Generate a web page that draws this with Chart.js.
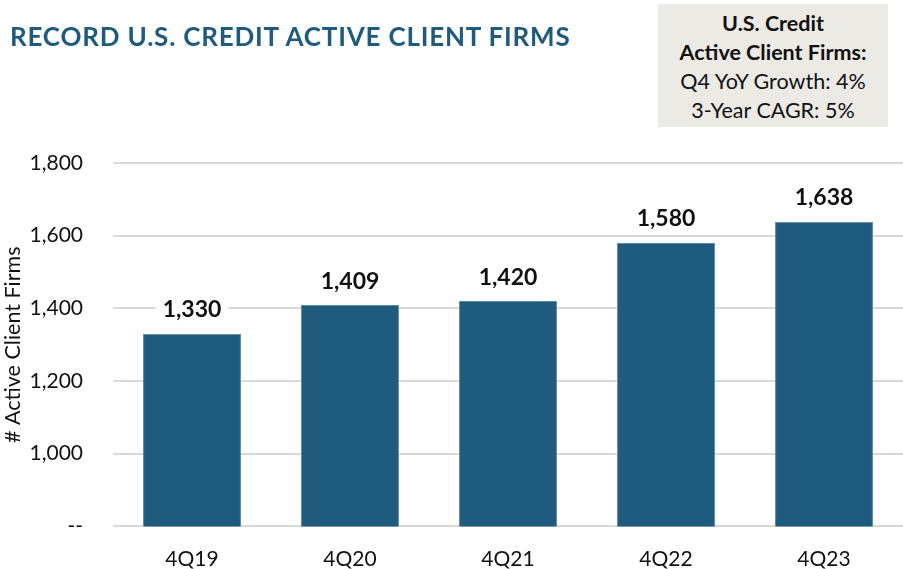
<!DOCTYPE html>
<html>
<head>
<meta charset="utf-8">
<script src="https://cdn.jsdelivr.net/npm/chart.js@4"></script>
<style>
  html, body { margin: 0; padding: 0; background: #fff; overflow: hidden; }
  #wrap { position: relative; width: 903px; height: 569px; }
  #title {
    position: absolute; left: 10px; top: 20px; letter-spacing: 0.8px;
    font: bold 26px Lato, sans-serif; color: #1F5B7D; white-space: nowrap;
  }
  #note {
    position: absolute; left: 658px; top: 4px; width: 230px; height: 123px;
    background: #ECEAE5; text-align: center; color: #111;
    font: 21.5px Lato, sans-serif; line-height: 29px; padding-top: 5px; box-sizing: border-box;
  }
  #note b { font-weight: bold; }
</style>
</head>
<body>
<div id="wrap">
  <canvas id="barChart" width="903" height="569"></canvas>
  <div id="title">RECORD U.S. CREDIT ACTIVE CLIENT FIRMS</div>
  <div id="note"><b>U.S. Credit</b><br><b>Active Client Firms:</b><br>Q4 YoY Growth: 4%<br>3-Year CAGR: 5%</div>
</div>
<script>
  const quarters = ["4Q19", "4Q20", "4Q21", "4Q22", "4Q23"];
  const activeFirms = [1330, 1409, 1420, 1580, 1638];
  const yTicks = [800, 1000, 1200, 1400, 1600, 1800];

  const barColor = "#1F5B7D";

  // value labels on a white patch above each bar
  const valueLabels = {
    id: "valueLabels",
    afterDatasetsDraw(chart) {
      const ctx = chart.ctx;
      const meta = chart.getDatasetMeta(0);
      ctx.save();
      ctx.font = "bold 23px Lato, sans-serif";
      ctx.textAlign = "center";
      ctx.textBaseline = "middle";
      meta.data.forEach((bar, i) => {
        const txt = activeFirms[i].toLocaleString("en-US");
        const w = ctx.measureText(txt).width + 14;
        const cy = bar.y - 24;
        ctx.fillStyle = "#fff";
        ctx.fillRect(bar.x - w / 2, cy - 14, w, 28);
        ctx.fillStyle = "#111";
        ctx.fillText(txt, bar.x, cy);
      });
      ctx.restore();
    }
  };

  new Chart(document.getElementById("barChart").getContext("2d"), {
    type: "bar",
    data: {
      labels: quarters,
      datasets: [{
        data: activeFirms,
        backgroundColor: barColor,
        borderColor: "#5f8aa3",
        borderWidth: 1,
        barPercentage: 0.62,
        categoryPercentage: 1
      }]
    },
    options: {
      responsive: false,
      animation: false,
      layout: { padding: { top: 163, left: 0, right: 0, bottom: 0 } },
      plugins: { legend: { display: false }, tooltip: { enabled: false } },
      scales: {
        x: {
          afterFit(scale) { scale.height = 42; },
          grid: { display: false },
          border: { display: false },
          ticks: { color: "#111", font: { family: "Lato", size: 21 }, padding: 12 }
        },
        y: {
          min: 800,
          max: 1800,
          afterFit(scale) { scale.width = 113; },
          afterBuildTicks(scale) { scale.ticks = yTicks.map(v => ({ value: v })); },
          grid: { color: "#D9D9D9", lineWidth: 2, drawTicks: false },
          border: { display: false },
          ticks: {
            color: "#111",
            font: { family: "Lato", size: 21 },
            padding: 30,
            callback: v => v === 800 ? "--" : v.toLocaleString("en-US")
          },
          title: {
            display: true,
            text: "# Active Client Firms",
            color: "#111",
            font: { family: "Lato", size: 21.5 },
            padding: { top: 0, bottom: 0 }
          }
        }
      }
    },
    plugins: [valueLabels]
  });
</script>
</body>
</html>
